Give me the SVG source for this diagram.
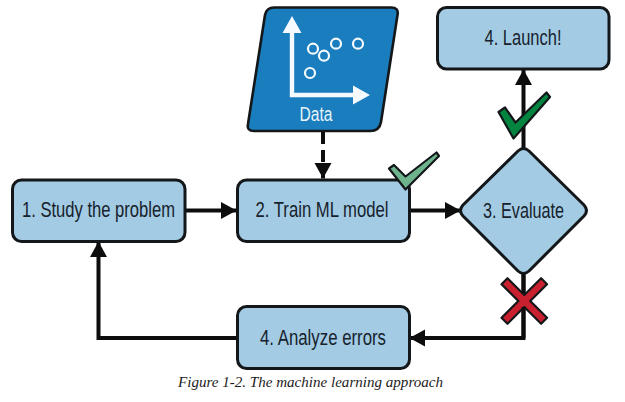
<svg xmlns="http://www.w3.org/2000/svg" width="625" height="402" viewBox="0 0 625 402">
<style>
.box{fill:#a3cce4;stroke:#14171a;stroke-width:3;stroke-linejoin:round}
.lbl{font-family:"Liberation Sans Narrow","Liberation Sans",sans-serif;font-size:22px;fill:#17222c;text-anchor:middle}
.con{fill:none;stroke:#0d0d0d;stroke-width:4}
.mark{stroke:#14171a;stroke-width:2.2;stroke-linejoin:round}
.wh{fill:none;stroke:#f4fafd;stroke-width:4.4}
.dot{fill:#1a7dbd;stroke:#f4fafd;stroke-width:2.2}
</style>
<defs>
<marker id="ah" markerUnits="userSpaceOnUse" markerWidth="16" markerHeight="18" refX="15.5" refY="9" orient="auto"><path d="M0 0.5L15.5 9L0 17.5Z" fill="#0d0d0d"/></marker>
</defs>
<rect width="625" height="402" fill="#fff"/>
<g id="connectors">
<path class="con" d="M186 210.5H236.500" marker-end="url(#ah)"/>
<path class="con" d="M323 132V178.500" stroke-dasharray="12 6" marker-end="url(#ah)"/>
<path class="con" d="M409 210.5H460.500" marker-end="url(#ah)"/>
<path class="con" d="M523.500 148V69.500" marker-end="url(#ah)"/>
<path class="con" d="M523.500 274V338H409.500" marker-end="url(#ah)"/>
<path class="con" d="M237 338H98.500V241.500" marker-end="url(#ah)"/>
</g>
<g id="node-study"><rect class="box" x="12.500" y="180" width="172.500" height="61.500" rx="9"/><text class="lbl" x="98.500" y="217" textLength="153" lengthAdjust="spacingAndGlyphs">1. Study the problem</text></g>
<g id="node-train"><rect class="box" x="237.500" y="180" width="172" height="61.500" rx="9"/><text class="lbl" x="322" y="217" textLength="133" lengthAdjust="spacingAndGlyphs">2. Train ML model</text></g>
<g id="node-launch"><rect class="box" x="437.500" y="7.500" width="171.500" height="61.500" rx="9"/><text class="lbl" x="523" y="44.500" textLength="77" lengthAdjust="spacingAndGlyphs">4. Launch!</text></g>
<g id="node-analyze"><rect class="box" x="237.500" y="306.500" width="172" height="62" rx="9"/><text class="lbl" x="323" y="344.500" textLength="126" lengthAdjust="spacingAndGlyphs">4. Analyze errors</text></g>
<g id="node-evaluate"><path class="box" d="M518 151Q523.500 146 529 151L584 205Q589 210.500 584 216L529 271Q523.500 276 518 271L463 216Q458 210.500 463 205Z"/><text class="lbl" x="523.500" y="217.500" textLength="81" lengthAdjust="spacingAndGlyphs">3. Evaluate</text></g>
<g id="node-data">
<path d="M274 7.500H391Q399 7.500 397.500 15L381 122Q379.500 131 370 131H254Q246.500 131 248 124L265 15Q266.500 7.500 274 7.500Z" fill="#1a7dbd" stroke="#14171a" stroke-width="2.6"/>
<path class="wh" d="M292 32V95H354"/>
<path d="M282.500 33L292 16L301.500 33Z M353 85.500L370 95L353 104.500Z" fill="#f4fafd"/>
<circle class="dot" cx="313" cy="48.700" r="5"/><circle class="dot" cx="324" cy="55.700" r="5"/><circle class="dot" cx="336" cy="43.700" r="5"/><circle class="dot" cx="358" cy="43.700" r="5"/><circle class="dot" cx="310" cy="73" r="5"/>
<text x="316" y="121" font-family="'Liberation Sans Narrow','Liberation Sans',sans-serif" font-size="20" fill="#e6f3fa" text-anchor="middle" textLength="33" lengthAdjust="spacingAndGlyphs">Data</text>
</g>
<g id="marks">
<path class="mark" fill="#6db48d" d="M389 168.500L394 165L405.500 176.500L436.500 152.500L439 156L405.500 189.500Z"/>
<path class="mark" fill="#00843f" d="M498.500 112L505 107.500L515.500 122.500L546.500 92.500L550 97L513.500 138.500Z"/>
<g transform="translate(524.300 301) rotate(45)"><path class="mark" fill="#c8202f" d="M-4.200 -28H4.200V-4.200H28V4.200H4.200V28H-4.200V4.200H-28V-4.200H-4.200Z"/></g>
<path d="M523.500 274V293M523.500 307V338" fill="none" stroke="#0d0d0d" stroke-width="4"/>
</g>
<text x="310.500" y="387" font-family="'Liberation Serif',serif" font-style="italic" font-size="14.500" fill="#1b1b1b" text-anchor="middle" textLength="265" lengthAdjust="spacingAndGlyphs">Figure 1-2. The machine learning approach</text>
</svg>
